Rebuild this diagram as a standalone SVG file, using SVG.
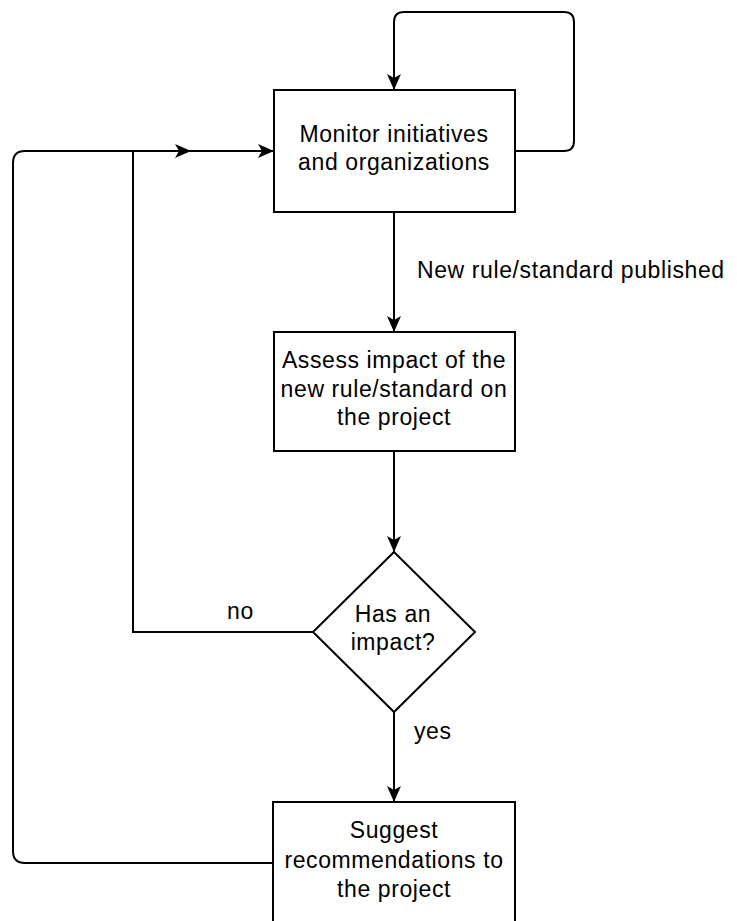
<svg xmlns="http://www.w3.org/2000/svg" width="737" height="921" viewBox="0 0 737 921">
<style>
.box{fill:#fff;stroke:#000;stroke-width:2}
.edge{fill:none;stroke:#000;stroke-width:2}
.t{font-family:"Liberation Sans",Arial,sans-serif;font-size:23px;letter-spacing:0.6px;fill:#000;text-anchor:middle}
.l{font-family:"Liberation Sans",Arial,sans-serif;font-size:23px;letter-spacing:0.6px;fill:#000}
</style>
<defs>
<marker id="arr" viewBox="0 0 16 14" refX="15" refY="7" markerWidth="16" markerHeight="14" markerUnits="userSpaceOnUse" orient="auto">
<path d="M0,0 L16,7 L0,14 L4,7 z" fill="#000"/>
</marker>
</defs>
<g id="connectors">
<path class="edge" d="M394,212 V331" marker-end="url(#arr)"/>
<path class="edge" d="M394,451 V551" marker-end="url(#arr)"/>
<path class="edge" d="M394,712 V801" marker-end="url(#arr)"/>
<path class="edge" d="M515,151 H564 Q574,151 574,141 V22 Q574,12 564,12 H404 Q394,12 394,22 V89" marker-end="url(#arr)"/>
<path class="edge" d="M313,632 H133 V151 H273" marker-end="url(#arr)"/>
<path class="edge" d="M273,863 H25 Q13,863 13,851 V163 Q13,151 25,151 H190" marker-end="url(#arr)"/>
<text class="l" x="417" y="278">New rule/standard published</text>
<text class="l" x="227" y="619">no</text>
<text class="l" x="414" y="739">yes</text>
</g>
<g id="monitor">
<rect class="box" x="274" y="90" width="241" height="122"/>
<text class="t" x="394" y="142">Monitor initiatives</text>
<text class="t" x="394" y="170">and organizations</text>
</g>
<g id="assess">
<rect class="box" x="274" y="332" width="241" height="119"/>
<text class="t" x="394" y="368">Assess impact of the</text>
<text class="t" x="394" y="397">new rule/standard on</text>
<text class="t" x="394" y="425">the project</text>
</g>
<g id="decision">
<path class="box" d="M394,552 L475,632 L394,712 L313,632 z"/>
<text class="t" x="393" y="622">Has an</text>
<text class="t" x="393" y="650">impact?</text>
</g>
<g id="suggest">
<rect class="box" x="273" y="802" width="242" height="130"/>
<text class="t" x="394" y="838">Suggest</text>
<text class="t" x="394" y="868">recommendations to</text>
<text class="t" x="394" y="897">the project</text>
</g>
</svg>
